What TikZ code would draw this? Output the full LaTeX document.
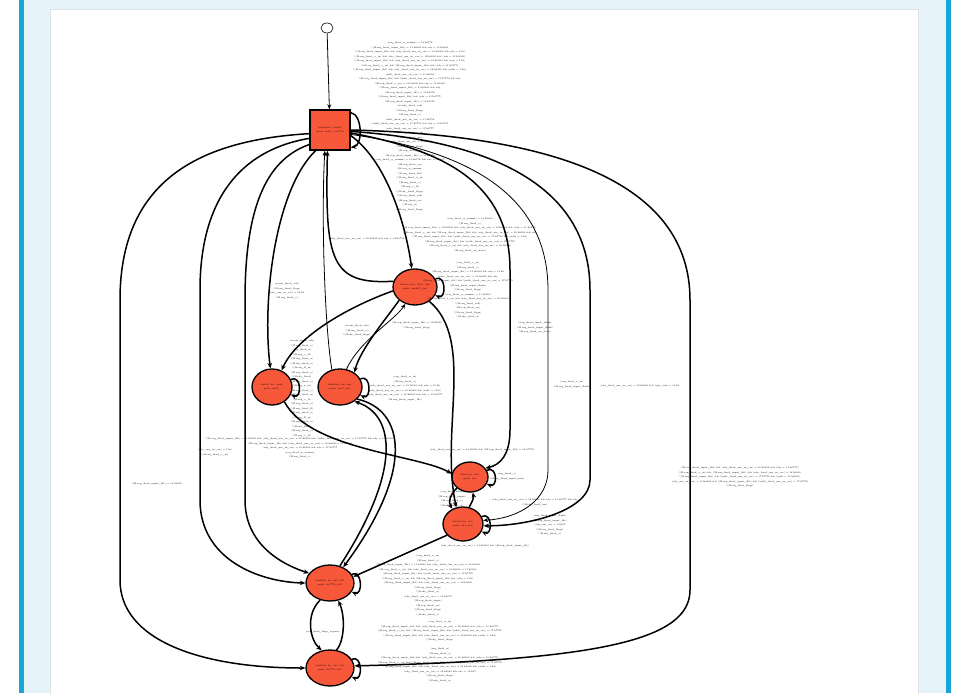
\documentclass[tikz,border=0pt]{standalone}
\usepackage{fontspec}
\usetikzlibrary{arrows.meta,shapes.geometric,positioning}
\definecolor{statered}{RGB}{248,88,58}
\definecolor{panelblue}{RGB}{230,244,250}
\definecolor{barblue}{RGB}{24,166,214}
\definecolor{panelgrey}{RGB}{222,226,228}
\newcommand\rqf{!(H.req\_fired\_input\_flit)}
\newcommand\rdy{(rdy\_fired\_usr\_in\_csr) = 16'h0000}
\newcommand\rqv{!(H.req\_fired\_v\_in)}
\newcommand\rqu{(req\_fired\_u\_aximm) = 13'h0778}
\newcommand\ndf{!(ndfc\_fired\_usr\_in\_csr) = 17'h7770}
\newcommand\rqb{(req\_fired\_flags\_bypass)}
\tikzset{
  statenode/.style={ellipse,draw=black,line width=1.3pt,fill=statered,minimum width=44pt,minimum height=36pt,inner sep=0pt,align=center,font=\fontsize{2.2}{3.2}\selectfont},
  statebox/.style={rectangle,draw=black,line width=1.5pt,fill=statered,minimum width=40pt,minimum height=40pt,inner sep=0pt,align=center,font=\fontsize{2.2}{3.2}\selectfont},
  initnode/.style={ellipse,draw=black,line width=0.6pt,fill=white,minimum width=12pt,minimum height=10pt,inner sep=0pt},
  edge/.style={black,line width=1.5pt,-{Stealth[length=5.5pt,width=4.5pt]}},
  thinedge/.style={black,line width=0.8pt,-{Stealth[length=5pt,width=4pt]}},
  lbl/.style={align=center,inner sep=0pt,anchor=north,font=\fontsize{2.2}{4.5}\selectfont},
}
\begin{document}
\begin{tikzpicture}[x=1pt,y=1pt]
\useasboundingbox (0,0) rectangle (973,-693);
% frame
\fill[white] (0,0) rectangle (973,-693);
\fill[panelblue] (24,0) rectangle (946,-693);
\fill[barblue] (19,0) rectangle (24,-693);
\fill[barblue] (946,0) rectangle (951,-693);
\draw[panelgrey,fill=white] (50,-9) rectangle (918,-700);

% states
\node[initnode] (init) at (327,-28) {};
\node[statebox] (s0) at (330,-130) {0x0000c0e: 0x000,\\ path: 0x001\_0x7776};
\node[statenode] (s1) at (415,-287) {0x0a5c3 bu: 0x7d, 0x0\\ path: 0x0007\_0x1};
\node[statenode,minimum width=40pt] (s2) at (272,-387) {0x0c37 bu: 0x44,\\ path: 0x07\_};
\node[statenode] (s3) at (340,-387) {0x0ff0e5c bu: 0x0,\\ path: 0x07\_0x1};
\node[statenode,minimum width=36pt,minimum height=30pt] (s4) at (470,-477) {0x0c3 bu: 0x1,\\ path: 0x1};
\node[statenode,minimum width=40pt,minimum height=34pt] (s5) at (463,-524) {0x0e5c bu: 0x0,\\ path: 0x1\_0x7};
\node[statenode,minimum width=48pt] (s6) at (330,-583) {0x0f0e5c bu: 0x1, 0x7\\ path: 0x7770\_0x7};
\node[statenode,minimum width=48pt] (s7) at (330,-668) {0x0f0e5c bu: 0x3, 0x1\\ path: 0x7770\_0x7};

% connectors
\draw[thinedge] (init) -- (s0);
\draw[edge] (s0.-15) .. controls (385,-160) and (405,-220) .. (s1.100);
\draw[edge] (s1.165) .. controls (330,-285) and (325,-260) .. (s0.-97);
\draw[thinedge] (s3.115) .. controls (325,-330) and (321,-220) .. (s0.-104);
\draw[edge] (s0.-125) .. controls (275,-190) and (262,-300) .. (s2.95);
\draw[edge] (s1.190) .. controls (340,-310) and (295,-340) .. (s2.60);
\draw[thinedge] (s3.70) .. controls (360,-340) and (395,-320) .. (s1.-120);
\draw[edge] (s1.-140) .. controls (385,-320) and (360,-350) .. (s3.45);
\draw[edge] (s0.-145) .. controls (265,-160) and (245,-210) .. (245,-300) -- (245,-500) .. controls (245,-540) and (275,-562) .. (s6.155);
\draw[edge] (s0.-158) .. controls (240,-150) and (200,-200) .. (200,-290) -- (200,-500) .. controls (200,-560) and (260,-582) .. (s6.180);
\draw[edge] (s0.-170) .. controls (200,-140) and (120,-180) .. (120,-300) -- (120,-580) .. controls (120,-640) and (200,-668) .. (s7.180);
\draw[edge] (s0.-8) .. controls (440,-150) and (510,-180) .. (510,-270) -- (510,-430) .. controls (510,-455) and (500,-465) .. (s4.30);
\draw[thinedge] (s0.-12) .. controls (460,-150) and (548,-190) .. (548,-290) -- (548,-470) .. controls (548,-500) and (520,-518) .. (s5.10);
\draw[edge] (s0.-4) .. controls (480,-140) and (590,-180) .. (590,-290) -- (590,-480) .. controls (590,-510) and (530,-526) .. (s5.-5);
\draw[edge] (s0.0) .. controls (550,-135) and (690,-180) .. (690,-300) -- (690,-590) .. controls (690,-640) and (600,-660) .. (s7.5);
\draw[edge] (s1.-45) .. controls (475,-340) and (440,-430) .. (s5.112);
\draw[edge] (s3.-35) .. controls (405,-410) and (415,-470) .. (s6.50);
\draw[edge] (s6.60) .. controls (402,-470) and (395,-415) .. (s3.-45);
\draw[edge] (s2.-50) .. controls (310,-450) and (420,-455) .. (s4.170);
\draw[edge] (s4.-140) .. controls (450,-495) and (448,-502) .. (s5.125);
\draw[edge] (s5.70) .. controls (472,-502) and (474,-498) .. (s4.-80);
\draw[edge] (s5.-145) -- (s6.15);
\draw[edge] (s6.-120) .. controls (305,-615) and (310,-640) .. (s7.115);
\draw[edge] (s7.70) .. controls (345,-640) and (345,-615) .. (s6.-65);
% self loops
\draw[edge] (s0.40) .. controls +(12,-2) and +(12,2) .. (s0.-40);
\foreach \n in {s1,s2,s3,s4,s5,s6,s7}
  \draw[edge] (\n.22) .. controls +(11,5) and +(11,-5) .. (\n.-22);

% labels
\node[lbl] (l0) at (410,-42) {\rqu\\ \rqf{} = 13'h0000 \&\& rdy = 11'h0000\\
\rqf{} \&\& \rdy{} \&\& rdy = 1'h0\\ \rqv{} \&\& \rdy{} \&\& (rdy = 11'h0000)\\
\rqf{} \&\& \rdy{} \&\& (req = 1'h1)\\ \rqv{} \&\& \rqf{} \&\& (rdy = 11'h0777)\\
\rqf{} \&\& \rdy{} \&\& (ndfc = 1'h0)\\ (ndfc\_fired\_usr\_in\_csr) = 11'h0000\\
\rqf{} \&\& \ndf{} \&\& rdy\\ \rqv{} = 13'h0000 \&\& rdy = 11'h0000\\ \rqf{} = 11'h0000 \&\& rdy\\
\rqf{} = 13'h0778\\ \rqf{} \&\& (rdy = 11'h0777)\\ \rqf{} = 13'h0778\\
!(ready\_fired\_ack)\\ !(H.req\_fired\_flags)\\ !(H.req\_fired\_v)\\
(ndfc\_fired\_usr\_in\_csr) = 11'h0778\\ \ndf{} \&\& rdy = 11'h0770\\
(rdy\_fired\_usr\_in\_csr) = 11'h0777\\ !(H.req\_fired\_v\_in)\\ !(H.rdy\_fired\_usr)\\
(ready\_fired\_usr\_in) = 11'h0000\\ !(H.req\_fired\_flags)\\ !(H.req\_fired\_en)\\
\rqf{} = 13'h7776\\ \rqu{} \&\& rdy = 11'h07\\ !(H.req\_fired\_en)\\ !(H.req\_u\_aximm)\\
!(H.req\_fired\_flit)\\ !(H.req\_fired\_u\_in)\\ !(H.req\_fired\_v)\\ !(H.req\_v\_fl)\\
!(H.rdy\_fired\_flags)\\ !(H.req\_fired\_ack)\\ !(H.req\_fired\_en)\\ !(H.rdy\_u)\\ !(H.req\_fired\_flags)};
\node[lbl] (l1) at (470,-218) {(req\_fired\_u\_aximm) = 13'h0000\\ !(H.req\_fired\_v)\\
\rqf{} = 13'h0000 \&\& \rdy{} \&\& (rdy = 11'h0777)\\
\rqv{} \&\& \rqf{} \&\& \rdy{} \&\& rdy\\ \rqf{} \&\& \ndf{} \&\& (ndfc = 1'h0)\\
\rqf{} \&\& \ndf\\ \rqv{} \&\& \rdy\\ !(H.req\_fired\_en\_done)};
\node[lbl] (l2) at (468,-262) {(req\_fired\_v\_in)\\ !(H.req\_fired\_v)\\ \rqf{} = 13'h0000 \&\& rdy = 11'h0\\
(ndfc\_fired\_usr\_in\_csr) = 11'h0000 \&\& rdy\\ \rqf{} \&\& \ndf\\
!(H.req\_fired\_input\_flush)\\ !(H.req\_fired\_flags)\\ (req\_fired\_u\_aximm) = 11'h0000\\
\rqv{} \&\& \rdy\\ !(H.req\_fired\_ack)\\ !(H.req\_fired\_en)\\ !(H.req\_fired\_flags)\\ !(H.rdy\_fired\_u)};
\node[lbl] (l3) at (367,-238) {\rdy{} \&\& rdy = 14'h0778};
\node[lbl] (l4) at (287,-283) {(ready\_fired\_ack)\\ !(H.req\_fired\_flags)\\ (rdy\_usr\_in\_csr) = 16'h0\\ !(H.req\_fired\_v)};
\node[lbl] (l5) at (417,-322) {\rqf{} = 13'h0000\\ !(H.req\_fired\_flags)};
\node[lbl] (l6) at (357,-325) {(ready\_fired\_ack)\\ !(H.req\_fired\_v)\\ !(H.rdy\_fired\_flags)};
\node[lbl] (l7) at (302,-340) {(ready\_fired\_ack)\\ !(H.req\_fired\_v)\\ (rdy\_fired\_u)\\ !(H.req\_v\_fl)\\
!(H.req\_fired\_u)\\ !(H.rdy\_fired\_v)\\ !(H.req\_fl\_in)\\ !(H.req\_fired\_a)\\ !(H.rdy\_fired)\\
!(H.req\_fired\_v)\\ !(H.req\_u\_in)\\ !(H.req\_fired\_e)\\ !(H.rdy\_fired\_u)\\ !(H.req\_v\_fl)\\
!(H.req\_fired\_a)\\ !(H.req\_fired\_fl)\\ !(H.rdy\_fired\_v)\\ !(H.req\_fl\_in)\\ !(H.req\_fired\_u)\\
!(H.rdy\_fired)\\ !(H.req\_fired\_e)\\ !(H.req\_v\_fl)};
\node[lbl] (l8) at (405,-376) {(req\_fired\_u\_in)\\ !(H.req\_fired\_v)\\ \rdy{} \&\& rdy = 11'h0\\
\rdy{} \&\& (ndfc = 1'h0)\\ \rdy{} \&\& rdy = 11'h0777\\ \rqf};
\node[lbl] (l9) at (300,-438) {\rqf{} = 11'h0000 \&\& \rdy{} \&\& \ndf{} \&\& rdy = 13'h0000\\
\rqf{} \&\& \rdy{} = 11'h0000\\ \rdy{} \&\& rdy = 17'h0777\\ (req\_fired\_u\_aximm)\\ !(H.req\_fired\_v)};
\node[lbl] (l10) at (157,-483) {\rqf{} = 11'h0000};
\node[lbl] (l11) at (215,-449) {(rdy\_usr\_in\_csr) = 1'h0\\ !(H.req\_fired\_v\_in)};
\node[lbl] (l12) at (535,-322) {!(req\_fired\_input\_flush)\\ !(H.req\_fired\_input\_flush)\\ !(H.req\_fired\_en\_done)};
\node[lbl] (l13) at (572,-381) {(req\_fired\_v\_in)\\ !(H.req\_fired\_input\_flush)};
\node[lbl] (l14) at (640,-385) {\rdy{} \&\& (rdy\_ack) = 13'h0};
\node[lbl] (l15) at (740,-467) {\rqf{} \&\& \rdy{} \&\& (rdy = 11'h0777)\\
\rqv{} \&\& \rqf{} \&\& \rdy\\ \rqf{} \&\& \ndf{} \&\& (ndfc = 11'h0000)\\
(rdy\_usr\_in\_csr) = 11'h0000 \&\& \rqf{} \&\& \ndf\\ !(H.req\_fired\_flags)};
\node[lbl] (l16) at (507,-473) {(req\_fired\_v)\\ !(H.req\_fired\_input\_new)};
\node[lbl] (l17) at (452,-491) {(req\_fired\_flush)\\ !(H.req\_fired\_input)\\ !(H.req\_fired\_v)\\ !(H.rdy\_fired\_u)};
\node[lbl] (l18) at (535,-499) {\rdy{} \&\& rdy = 11'h0777 \&\& rdy\\ !(H.rdy\_fired\_usr)};
\node[lbl] (l19) at (550,-515) {(req\_fired\_input\_flush)\\ !(H.req\_fired\_input\_flit)\\ (rdy\_usr\_in) = 13'h07\\ !(H.req\_fired\_flags)\\ !(H.rdy\_fired\_v)};
\node[lbl] (l20) at (485,-545) {\rdy{} \&\& \rqf};
\node[lbl] (l21) at (428,-555) {(req\_fired\_u\_in)\\ !(H.req\_fired\_v)\\
\rqf{} = 11'h0000 \&\& \rdy\\ \rqv{} \&\& \rdy{} = 11'h0000\\
\rqf{} \&\& \ndf\\ \rqv{} \&\& \rqf{} \&\& (rdy = 1'h1)\\
\rqf{} \&\& \rdy\\ !(H.req\_fired\_flags)\\ !(H.rdy\_fired\_u)\\
(rdy\_fired\_usr\_in\_csr) = 11'h0777\\ !(H.req\_fired\_input)\\ !(H.req\_fired\_en)\\
!(H.req\_fired\_flags)\\ !(H.rdy\_fired\_v)};
\node[lbl] (l22) at (323,-631) {\rqb};
\node[lbl] (l23) at (440,-621) {(req\_fired\_u\_in)\\
\rqf{} \&\& \rdy{} \&\& (rdy = 11'h0777)\\ \rqv{} \&\& \rqf{} \&\& \ndf\\
\rqf{} \&\& \rdy{} \&\& (ndfc = 1'h0)\\ !(H.rdy\_fired\_flags)};
\node[lbl] (l24) at (440,-648) {(req\_fired\_u)\\ !(H.req\_fired\_v)\\
\rqf{} \&\& \rdy{} \&\& (rdy = 11'h0777)\\ \rqv{} \&\& \rqf{} \&\& \ndf\\
\rqf{} \&\& \rdy{} \&\& (ndfc = 1'h0)\\ \rdy{} \&\& rdy = 13'h07\\ !(H.req\_fired\_flags)\\ !(H.rdy\_fired\_u)};
\node[lbl] (l25) at (482,-449) {\rdy{} \&\& \rqf{} = 13'h7770};
\end{tikzpicture}
\end{document}
